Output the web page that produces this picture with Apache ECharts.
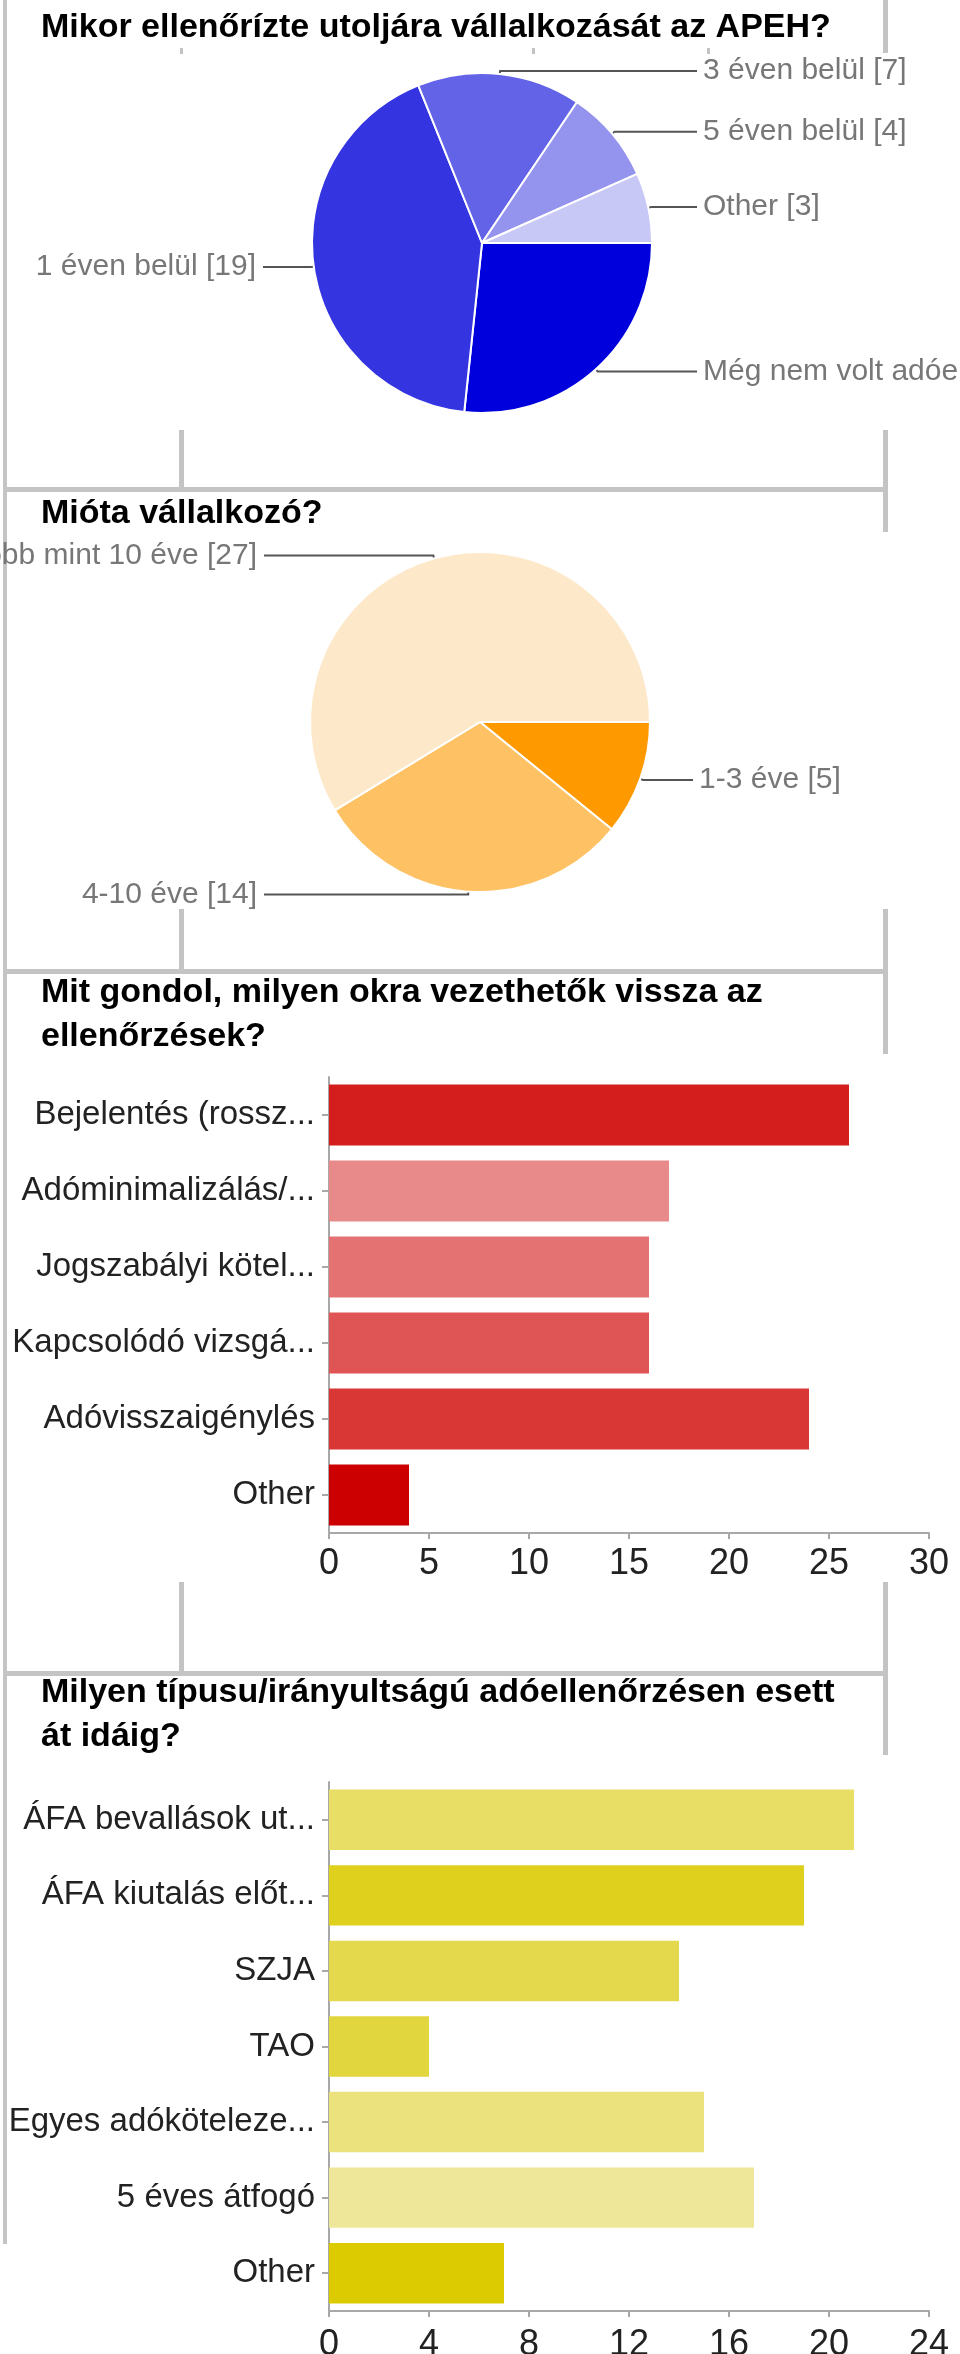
<!DOCTYPE html>
<html>
<head>
<meta charset="utf-8">
<script src="https://cdn.jsdelivr.net/npm/echarts@6/dist/echarts.min.js"></script>
<style>
html,body{margin:0;padding:0;background:#fff;}
#c{width:960px;height:2354px;}
</style>
</head>
<body>
<div id="c"></div>
<script>
// ---------- data ----------
const titles = [
  "Mikor ellenőrízte utoljára vállalkozását az APEH?",
  "Mióta vállalkozó?",
  "Mit gondol, milyen okra vezethetők vissza az\nellenőrzések?",
  "Milyen típusu/irányultságú adóellenőrzésen esett\nát idáig?"
];

const apehNames = ["Még nem volt adóellenőrzés", "1 éven belül", "3 éven belül", "5 éven belül", "Other"];
const apehValues = [12, 19, 7, 4, 3];
const apehColors = ["#0000dc", "#3434e0", "#6363e8", "#9494ee", "#c8c8f6"];

const vallNames = ["1-3 éve", "4-10 éve", "Több mint 10 éve"];
const vallValues = [5, 14, 27];
const vallColors = ["#ff9900", "#fec163", "#fde9c9"];

const okCats = ["Bejelentés (rossz...", "Adóminimalizálás/...", "Jogszabályi kötel...", "Kapcsolódó vizsgá...", "Adóvisszaigénylés", "Other"];
const okValues = [26, 17, 16, 16, 24, 4];
const okColors = ["#d41e1e", "#e88a8a", "#e47272", "#df5555", "#d93636", "#cc0000"];
const okAxis = { min: 0, max: 30, step: 5 };

const tipusCats = ["ÁFA bevallások ut...", "ÁFA kiutalás előt...", "SZJA", "TAO", "Egyes adóköteleze...", "5 éves átfogó", "Other"];
const tipusValues = [21, 19, 14, 4, 15, 17, 7];
const tipusColors = ["#e8de66", "#dfd01e", "#e4d94d", "#e2d63e", "#ebe27e", "#eee799", "#dccb00"];
const tipusAxis = { min: 0, max: 24, step: 4 };

// ---------- styling / layout ----------
const FONT = "'Liberation Sans', Arial, Helvetica, sans-serif";
const BORDER = "#c4c4c4";
const AXIS = "#a8a8a8";

function pieLabelLayout(cx, leftEnd, rightEnd) {
  return function (p) {
    const pts = p.labelLinePoints;
    if (!pts) return {};
    const right = pts[0][0] >= cx;
    const y = pts[1][1];
    const endX = right ? rightEnd : leftEnd;
    return {
      x: right ? endX + 6 : endX - 7,
      y: y,
      align: right ? 'left' : 'right',
      verticalAlign: 'middle',
      labelLinePoints: [pts[0], [pts[1][0], y], [endX, y]]
    };
  };
}

function pieSeries(names, values, colors, center, leftEnd, rightEnd) {
  return {
    type: 'pie',
    center: center,
    radius: 170,
    startAngle: 0,
    clockwise: true,
    animation: false,
    silent: true,
    avoidLabelOverlap: false,
    itemStyle: { borderColor: '#fff', borderWidth: 2 },
    label: {
      show: true, position: 'outside', formatter: '{b} [{c}]',
      fontFamily: FONT, fontSize: 30, color: '#777', overflow: 'none'
    },
    labelLine: { show: true, length: 3, length2: 20, smooth: false, lineStyle: { color: '#555', width: 2 } },
    labelLayout: pieLabelLayout(center[0], leftEnd, rightEnd),
    data: names.map((n, i) => ({ name: n, value: values[i], itemStyle: { color: colors[i] } }))
  };
}

function catAxis(grid, cats) {
  return {
    type: 'category', gridIndex: grid, data: cats, inverse: true,
    axisLine: { show: true, lineStyle: { color: AXIS, width: 2 } },
    axisTick: { show: true, alignWithLabel: true, length: 7, lineStyle: { color: AXIS, width: 2 } },
    axisLabel: { interval: 0, fontFamily: FONT, fontSize: 33, color: '#222', margin: 14 },
    splitLine: { show: false }
  };
}
function valAxis(grid, ax, margin) {
  return {
    type: 'value', gridIndex: grid, min: ax.min, max: ax.max, interval: ax.step,
    axisLine: { show: true, lineStyle: { color: AXIS, width: 2 } },
    axisTick: { show: true, length: 6, lineStyle: { color: AXIS, width: 2 } },
    axisLabel: { fontFamily: FONT, fontSize: 36, color: '#222', margin: margin },
    splitLine: { show: false }
  };
}
function barSeries(idx, values, colors) {
  return {
    type: 'bar', xAxisIndex: idx, yAxisIndex: idx, barCategoryGap: '20%',
    animation: false, silent: true,
    data: values.map((v, i) => ({ value: v, itemStyle: { color: colors[i] } }))
  };
}

function rect(x, y, w, h, fill) {
  return { type: 'rect', silent: true, shape: { x: x, y: y, width: w, height: h }, style: { fill: fill || BORDER } };
}

const titleTops = [6, 492, 971, 1671];

const option = {
  backgroundColor: '#fff',
  animation: false,
  title: titles.map((t, i) => ({
    text: t, left: 41, top: titleTops[i], padding: 0,
    textStyle: { fontFamily: FONT, fontSize: 34, fontWeight: 'bold', color: '#000', lineHeight: 44 }
  })),
  grid: [
    { left: 329, top: 1077, width: 600, height: 456, containLabel: false, outerBoundsMode: 'none' },
    { left: 329, top: 1782, width: 600, height: 529, containLabel: false, outerBoundsMode: 'none' }
  ],
  xAxis: [valAxis(0, okAxis, 13), valAxis(1, tipusAxis, 16)],
  yAxis: [catAxis(0, okCats), catAxis(1, tipusCats)],
  series: [
    pieSeries(apehNames, apehValues, apehColors, [482, 243], 263, 697),
    pieSeries(vallNames, vallValues, vallColors, [480, 722], 264, 693),
    barSeries(0, okValues, okColors),
    barSeries(1, tipusValues, tipusColors)
  ],
  graphic: [
    // left border
    rect(3, 0, 4, 2244),
    // right border segments
    rect(883, 0, 5, 53), rect(883, 430, 5, 102), rect(883, 909, 5, 145), rect(883, 1582, 5, 173),
    // middle dividers in separator rows
    rect(179, 430, 5, 59), rect(179, 909, 5, 62), rect(179, 1582, 5, 91),
    // horizontal separators
    rect(3, 487, 885, 5), rect(3, 969, 885, 5), rect(3, 1671, 885, 5),
    // small marks
    rect(180, 48, 3, 6), rect(532, 48, 3, 6), rect(707, 48, 3, 6)
  ]
};

const chart = echarts.init(document.getElementById('c'), null, { renderer: 'canvas' });
chart.setOption(option);
</script>
</body>
</html>
